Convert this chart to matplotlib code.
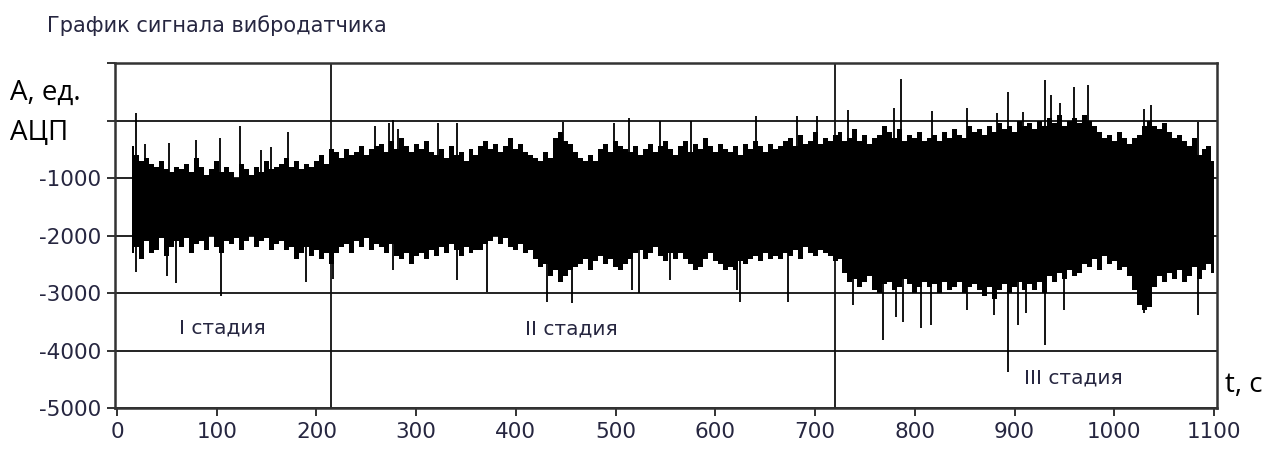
import numpy as np
import matplotlib.pyplot as plt

# envelope of the vibration signal, every 5 s (ADC units)
t_start, t_step = 15, 5
upper = [
    -450, -600, -700, -650, -750, -800, -700, -850, -900, -800,
    -850, -750, -900, -650, -800, -950, -850, -700, -900, -800,
    -900, -1000, -750, -850, -950, -800, -900, -700, -850, -800,
    -750, -650, -800, -700, -850, -750, -800, -700, -600, -750,
    -500, -550, -650, -500, -600, -550, -450, -600, -500, -450,
    -400, -550, -350, -500, -300, -450, -550, -400, -500, -350,
    -550, -600, -500, -650, -450, -600, -550, -700, -500, -600,
    -450, -350, -500, -400, -550, -450, -300, -500, -400, -550,
    -600, -650, -700, -550, -650, -300, -200, -350, -400, -550,
    -650, -700, -600, -700, -500, -400, -550, -350, -450, -500,
    -550, -450, -600, -500, -400, -550, -450, -350, -500, -600,
    -450, -350, -550, -400, -500, -300, -450, -550, -400, -500,
    -550, -450, -600, -400, -500, -350, -450, -550, -400, -500,
    -450, -350, -300, -450, -250, -400, -350, -200, -400, -300,
    -350, -250, -200, -350, -300, -150, -350, -250, -400, -300,
    -250, -100, -200, -300, -150, -350, -250, -300, -200, -350,
    -300, -250, -350, -200, -300, -150, -250, -300, -100, -200,
    -150, -250, -100, -200, -50, -150, -100, -200, 0, -100,
    -50, -150, 0, -100, 50, -50, 100, -100, 0, 50,
    -50, 100, 0, -100, -200, -300, -250, -350, -200, -300,
    -400, -300, -250, -100, 0, -100, -150, -50, -200, -300,
    -250, -350, -450, -300, -600, -500, -450, -700,
]
lower = [
    -2300, -2200, -2400, -2100, -2300, -2250, -2050, -2350, -2200, -2100,
    -2200, -2050, -2300, -2150, -2100, -2250, -2000, -2200, -2300, -2100,
    -2150, -2050, -2250, -2100, -2000, -2200, -2100, -2050, -2250, -2150,
    -2100, -2250, -2200, -2400, -2300, -2200, -2350, -2250, -2400, -2300,
    -2500, -2300, -2200, -2150, -2300, -2100, -2200, -2050, -2250, -2150,
    -2200, -2300, -2150, -2350, -2400, -2300, -2500, -2350, -2300, -2400,
    -2250, -2350, -2200, -2300, -2150, -2250, -2350, -2200, -2300, -2250,
    -2250, -2150, -2100, -2000, -2150, -2050, -2200, -2250, -2150, -2300,
    -2250, -2400, -2550, -2500, -2700, -2600, -2800, -2700, -2600, -2550,
    -2500, -2400, -2600, -2450, -2350, -2500, -2400, -2550, -2600, -2500,
    -2400, -2300, -2250, -2400, -2300, -2200, -2350, -2450, -2300, -2400,
    -2300, -2400, -2500, -2600, -2550, -2400, -2300, -2450, -2500, -2600,
    -2550, -2600, -2450, -2500, -2400, -2350, -2450, -2300, -2400, -2350,
    -2400, -2300, -2350, -2250, -2400, -2200, -2300, -2350, -2250, -2300,
    -2350, -2450, -2400, -2650, -2800, -2750, -2900, -2800, -2700, -2950,
    -3000, -2850, -2800, -2950, -2900, -2750, -2850, -3000, -2900, -2800,
    -2900, -2850, -3000, -2800, -2950, -2900, -2800, -3000, -2900, -2850,
    -2950, -3050, -2900, -3100, -2950, -2850, -3000, -2900, -2800, -2950,
    -2850, -2950, -2800, -3000, -2700, -2800, -2650, -2750, -2600, -2700,
    -2650, -2500, -2550, -2400, -2600, -2350, -2500, -2450, -2600, -2550,
    -2700, -2950, -3200, -3300, -3250, -2900, -2700, -2800, -2650, -2750,
    -2600, -2800, -2700, -2550, -2750, -2600, -2500, -2650,
]

# single spikes sticking out of the band
spike_up_t = [19, 28, 52, 79, 103, 123, 144, 154, 172, 259, 273, 277, 282, 322, 341,
              447, 498, 513, 545, 576, 641, 682, 702, 733, 779, 786, 817, 852, 882,
              893, 909, 931, 937, 946, 960, 974, 1030, 1037, 1084]
spike_up_v = [130, -400, -390, -340, -300, -100, -510, -460, -200, -100, -50, 10, -150,
              -40, -40, -20, -40, 40, 0, 0, 80, 80, 80, 180, 220, 720, 160, 220, 130,
              500, 150, 700, 440, 300, 580, 620, 200, 270, -30]
spike_dn_t = [19, 50, 59, 104, 190, 217, 277, 341, 371, 431, 456, 516, 523, 555,
              622, 625, 673, 738, 768, 781, 788, 806, 816, 852, 879, 893, 903,
              912, 931, 950, 1030, 1084]
spike_dn_v = [-2630, -2700, -2830, -3050, -2800, -2750, -2600, -2770, -2980, -3150,
              -3180, -2950, -3000, -2770, -2950, -3150, -3150, -3200, -3820, -3420,
              -3500, -3600, -3560, -3290, -3380, -4370, -3560, -3350, -3900, -3300,
              -3350, -3380]

stage_bounds = [215, 720]
stage_labels = ['I стадия', 'II стадия', 'III стадия']
stage_pos = [(106, -3600), (456, -3620), (959, -4480)]

t = t_start + t_step * np.arange(len(upper))
mid = (np.array(upper) + np.array(lower)) / 2

fig = plt.figure(figsize=(12.69, 4.5), dpi=100)
ax = fig.add_axes([0.0906, 0.0933, 0.8684, 0.7667])

ax.fill_between(t, lower, upper, step='mid', color='black', lw=0, zorder=3)
ax.vlines(spike_up_t, np.interp(spike_up_t, t, mid), spike_up_v, color='black', lw=1.3, zorder=3)
ax.vlines(spike_dn_t, spike_dn_v, np.interp(spike_dn_t, t, mid), color='black', lw=1.3, zorder=3)

ax.set_xlim(-2, 1103)
ax.set_ylim(-5000, 1000)
ax.set_xticks(range(0, 1101, 100))
ax.set_yticks(range(-5000, 1001, 1000))
ax.set_yticklabels([str(v) if v < 0 else '' for v in range(-5000, 1001, 1000)])
ax.grid(axis='y', color='#111111', lw=1.3, zorder=1)
for b in stage_bounds:
    ax.axvline(b, color='#111111', lw=1.3, zorder=1)

txt_col = '#262640'
ax.tick_params(axis='both', direction='out', length=6, width=1.3, color='#222222',
               labelsize=15.5, labelcolor=txt_col, pad=4)
for s in ax.spines.values():
    s.set_linewidth(1.8)
    s.set_color('#333333')

for lab, (x, y) in zip(stage_labels, stage_pos):
    ax.text(x, y, lab, ha='center', va='center', fontsize=14.5, color=txt_col)

fig.text(0.037, 0.93, 'График сигнала вибродатчика', fontsize=15, color=txt_col,
         ha='left', va='baseline')
fig.text(0.008, 0.778, 'А, ед.', fontsize=20, family='Open Sans', ha='left', va='baseline')
fig.text(0.008, 0.689, 'АЦП', fontsize=20, family='Open Sans', ha='left', va='baseline')
fig.text(0.965, 0.13, 't, c', fontsize=20, family='Open Sans', ha='left', va='baseline')

fig.savefig('out.png', dpi=100)
